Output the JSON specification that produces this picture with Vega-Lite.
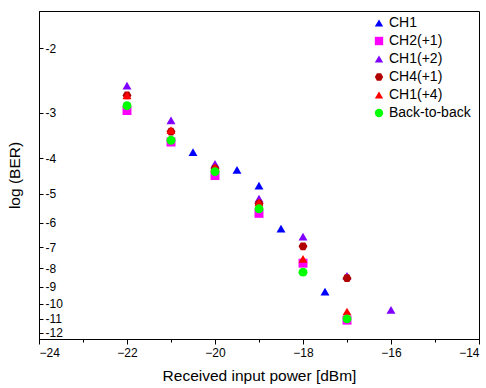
{
  "$schema": "https://vega.github.io/schema/vega-lite/v6.json",
  "width": 440,
  "height": 328,
  "autosize": {"type": "none"},
  "padding": {"left": 39, "top": 11, "right": 7, "bottom": 49},
  "config": {
    "view": {"stroke": "#000", "strokeWidth": 1},
    "font": "Liberation Sans",
    "axis": {
      "grid": false,
      "domainColor": "#000",
      "tickColor": "#000",
      "labelColor": "#000",
      "titleColor": "#000",
      "labelFont": "Liberation Sans",
      "titleFont": "Liberation Sans",
      "titleFontWeight": "normal"
    },
    "legend": {"labelFont": "Liberation Sans"}
  },
  "data": {
    "values": [
      {"series": "CH1", "power": -20.5, "negLogBER": 3.85},
      {"series": "CH1", "power": -19.5, "negLogBER": 4.30},
      {"series": "CH1", "power": -19, "negLogBER": 4.75},
      {"series": "CH1", "power": -18.5, "negLogBER": 6.23},
      {"series": "CH1", "power": -17.5, "negLogBER": 9.27},
      {"series": "CH2(+1)", "power": -22, "negLogBER": 2.96},
      {"series": "CH2(+1)", "power": -21, "negLogBER": 3.61},
      {"series": "CH2(+1)", "power": -20, "negLogBER": 4.46},
      {"series": "CH2(+1)", "power": -19, "negLogBER": 5.66},
      {"series": "CH2(+1)", "power": -18, "negLogBER": 7.75},
      {"series": "CH2(+1)", "power": -17, "negLogBER": 11.1},
      {"series": "CH1(+2)", "power": -22, "negLogBER": 2.53},
      {"series": "CH1(+2)", "power": -21, "negLogBER": 3.15},
      {"series": "CH1(+2)", "power": -20, "negLogBER": 4.14},
      {"series": "CH1(+2)", "power": -19, "negLogBER": 5.16},
      {"series": "CH1(+2)", "power": -18, "negLogBER": 6.55},
      {"series": "CH1(+2)", "power": -17, "negLogBER": 8.4},
      {"series": "CH1(+2)", "power": -16, "negLogBER": 10.4},
      {"series": "CH4(+1)", "power": -22, "negLogBER": 2.69},
      {"series": "CH4(+1)", "power": -21, "negLogBER": 3.38},
      {"series": "CH4(+1)", "power": -20, "negLogBER": 4.27},
      {"series": "CH4(+1)", "power": -19, "negLogBER": 5.32},
      {"series": "CH4(+1)", "power": -18, "negLogBER": 6.97},
      {"series": "CH4(+1)", "power": -17, "negLogBER": 8.52},
      {"series": "CH1(+4)", "power": -22, "negLogBER": 2.69},
      {"series": "CH1(+4)", "power": -21, "negLogBER": 3.35},
      {"series": "CH1(+4)", "power": -20, "negLogBER": 4.23},
      {"series": "CH1(+4)", "power": -19, "negLogBER": 5.28},
      {"series": "CH1(+4)", "power": -18, "negLogBER": 7.54},
      {"series": "CH1(+4)", "power": -17, "negLogBER": 10.51},
      {"series": "Back-to-back", "power": -22, "negLogBER": 2.87},
      {"series": "Back-to-back", "power": -21, "negLogBER": 3.57},
      {"series": "Back-to-back", "power": -20, "negLogBER": 4.35},
      {"series": "Back-to-back", "power": -19, "negLogBER": 5.5},
      {"series": "Back-to-back", "power": -18, "negLogBER": 8.2},
      {"series": "Back-to-back", "power": -17, "negLogBER": 11.01}
    ]
  },
  "mark": {"type": "point", "filled": true, "opacity": 1, "size": 80},
  "encoding": {
    "x": {
      "field": "power",
      "type": "quantitative",
      "scale": {"domain": [-24, -14], "nice": false, "zero": false},
      "axis": {
        "values": [-24, -23, -22, -21, -20, -19, -18, -17, -16, -15, -14],
        "tickSize": {"condition": {"test": "datum.value % 2 != 0", "value": 3}, "value": 5},
        "labelExpr": "datum.value % 2 == 0 ? datum.label : ''",
        "labelFontSize": 12,
        "labelPadding": 3,
        "labelOverlap": false,
        "title": "Received input power [dBm]",
        "titleFontSize": 15.5,
        "titlePadding": 10
      }
    },
    "y": {
      "field": "negLogBER",
      "type": "quantitative",
      "scale": {"type": "log", "domain": [1.58, 12.5], "reverse": true, "nice": false, "zero": false},
      "axis": {
        "values": [2, 3, 4, 5, 6, 7, 8, 9, 10, 11, 12],
        "labelExpr": "'-' + datum.value",
        "tickSize": -4,
        "labelPadding": -2,
        "labelAlign": "left",
        "labelFontSize": 12,
        "labelOverlap": false,
        "title": "log (BER)",
        "titleFontSize": 15.5,
        "titlePadding": 16
      }
    },
    "color": {
      "field": "series",
      "type": "nominal",
      "scale": {
        "domain": ["CH1", "CH2(+1)", "CH1(+2)", "CH4(+1)", "CH1(+4)", "Back-to-back"],
        "range": ["#0000ff", "#ff00ff", "#8000ff", "#b00000", "#ff0000", "#00ff00"]
      },
      "legend": {
        "orient": "none",
        "legendX": 333,
        "legendY": 5,
        "title": null,
        "labelFontSize": 14,
        "symbolSize": 70,
        "rowPadding": 4,
        "labelOffset": 3,
        "padding": 0
      }
    },
    "shape": {
      "field": "series",
      "type": "nominal",
      "scale": {
        "domain": ["CH1", "CH2(+1)", "CH1(+2)", "CH4(+1)", "CH1(+4)", "Back-to-back"],
        "range": ["triangle-up", "square", "triangle-up", "M-1,0L-0.5,-0.87L0.5,-0.87L1,0L0.5,0.87L-0.5,0.87Z", "triangle-up", "circle"]
      },
      "legend": {
        "orient": "none",
        "legendX": 333,
        "legendY": 5,
        "title": null,
        "labelFontSize": 14,
        "symbolSize": 70,
        "rowPadding": 4,
        "labelOffset": 3,
        "padding": 0
      }
    }
  }
}
